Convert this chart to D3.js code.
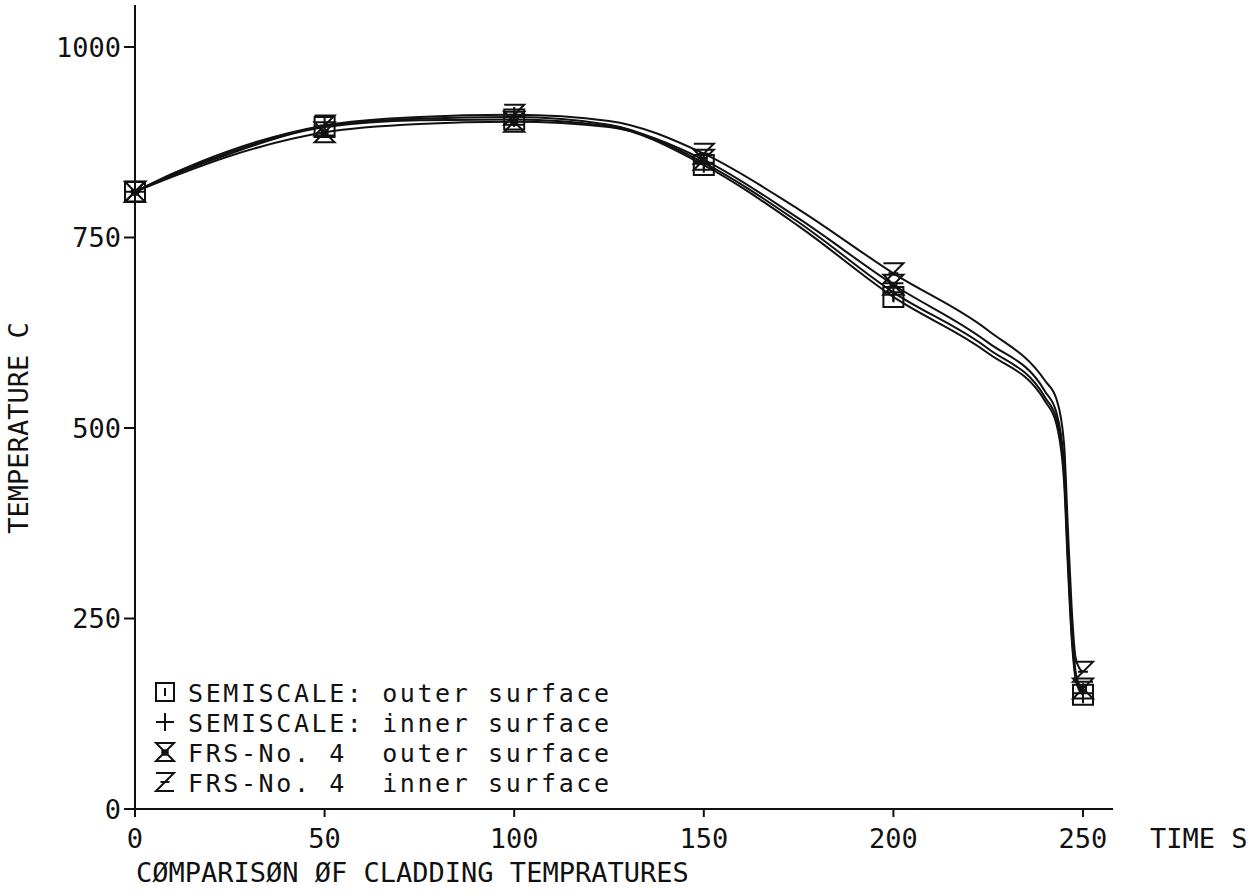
<!DOCTYPE html>
<html lang="en">
<head>
<meta charset="UTF-8">
<title>Comparison of cladding temperatures</title>
<script src="https://d3js.org/d3.v7.min.js"></script>
<style>
    body { margin: 0; background: #fff; }
    text {
        font-family: "DejaVu Sans Mono", monospace;
        font-size: 27px;
        fill: #111;
    }
    .legend text { font-size: 25px; letter-spacing: 2.6px; }
</style>
</head>
<body>
<div id="chart"></div>
<script>
    // Width and height of the picture
    var width = 1258;
    var height = 896;

    // time points (s) and the four read-off temperature curves (C)
    var times      = [0, 10, 25, 50, 75, 100, 125, 150, 175, 200, 225, 240, 243, 245, 246, 247, 248, 249, 250];
    var semiOuter  = [810, 832, 860, 895, 904, 905, 896, 845, 765, 672, 598, 535, 505, 430, 320, 225, 172, 156, 150];
    var semiInner  = [810, 833, 862, 896, 906, 908, 898, 848, 770, 678, 604, 540, 512, 440, 330, 232, 176, 158, 152];
    var frsOuter   = [810, 830, 857, 888, 899, 902, 895, 852, 775, 688, 612, 548, 520, 455, 345, 242, 182, 163, 158];
    var frsInner   = [810, 834, 864, 897, 908, 911, 903, 860, 787, 703, 628, 562, 538, 480, 370, 265, 200, 185, 180];

    var markerTimes = [0, 50, 100, 150, 200, 250];
    var xTicks = [0, 50, 100, 150, 200, 250];
    var yTicks = [0, 250, 500, 750, 1000];

    var seriesNames = ["SEMISCALE: outer surface", "SEMISCALE: inner surface",
                       "FRS-No. 4  outer surface", "FRS-No. 4  inner surface"];
    var seriesValues = [semiOuter, semiInner, frsOuter, frsInner];
    var seriesSymbols = ["square", "plus", "hourglass", "zee"];

    var svg = d3.select("#chart").append("svg")
        .attr("width", width)
        .attr("height", height);

    var x = d3.scaleLinear().domain([0, 250]).range([135, 1083]);
    var y = d3.scaleLinear().domain([0, 1000]).range([809, 47]);

    // symbol paths, centred on 0,0
    function symbolPath(kind, s) {
        if (kind === "square") {
            return "M" + (-s) + "," + (-s) + "H" + s + "V" + s + "H" + (-s) + "Z" +
                   "M0," + (-s * 0.45) + "V" + (s * 0.45);
        } else if (kind === "plus") {
            return "M" + (-s) + ",0H" + s + "M0," + (-s) + "V" + s;
        } else if (kind === "hourglass") {
            return "M" + (-s) + "," + (-s) + "H" + s + "L" + (-s) + "," + s + "H" + s + "Z" +
                   "M" + (-s * 0.3) + "," + (-s * 0.2) + "h" + (s * 0.6) + "v" + (s * 0.5) + "h" + (-s * 0.6) + "Z";
        } else {
            return "M" + (-s) + "," + (-s) + "H" + s + "L" + (-s) + "," + s + "H" + s +
                   "M" + (-s * 0.5) + ",0H" + (s * 0.5);
        }
    }

    // axes
    var axes = svg.append("g").attr("stroke", "#111").attr("stroke-width", 2).attr("fill", "none");
    axes.append("line").attr("x1", x(0)).attr("x2", 1113).attr("y1", y(0)).attr("y2", y(0));
    axes.append("line").attr("x1", x(0)).attr("x2", x(0)).attr("y1", y(0)).attr("y2", 5);

    axes.selectAll(".xt").data(xTicks).join("line")
        .attr("x1", function (d) { return x(d); })
        .attr("x2", function (d) { return x(d); })
        .attr("y1", y(0))
        .attr("y2", y(0) + 8);

    axes.selectAll(".yt").data(yTicks).join("line")
        .attr("x1", x(0) - 11)
        .attr("x2", x(0))
        .attr("y1", function (d) { return y(d); })
        .attr("y2", function (d) { return y(d); });

    svg.append("g").selectAll("text").data(xTicks).join("text")
        .attr("x", function (d) { return x(d); })
        .attr("y", 848)
        .attr("text-anchor", "middle")
        .text(function (d) { return d; });

    svg.append("g").selectAll("text").data(yTicks).join("text")
        .attr("x", x(0) - 14)
        .attr("y", function (d) { return y(d); })
        .attr("dy", "0.36em")
        .attr("text-anchor", "end")
        .text(function (d) { return d; });

    svg.append("text")
        .attr("x", 1150)
        .attr("y", 848)
        .text("TIME S");

    svg.append("text")
        .attr("transform", "translate(28," + y(500) + ") rotate(-90)")
        .attr("text-anchor", "middle")
        .text("TEMPERATURE C");

    svg.append("text")
        .attr("x", 136)
        .attr("y", 882)
        .text("CØMPARISØN ØF CLADDING TEMPRATURES");

    // curves
    var line = d3.line()
        .x(function (d) { return x(d[0]); })
        .y(function (d) { return y(d[1]); })
        .curve(d3.curveMonotoneX);

    seriesValues.forEach(function (vals, i) {
        var pts = times.map(function (t, j) { return [t, vals[j]]; });
        svg.append("path")
            .attr("d", line(pts))
            .attr("fill", "none")
            .attr("stroke", "#111")
            .attr("stroke-width", 2);

        var marks = pts.filter(function (p) { return markerTimes.indexOf(p[0]) >= 0; });
        svg.append("g").selectAll("path").data(marks).join("path")
            .attr("transform", function (d) { return "translate(" + x(d[0]) + "," + y(d[1]) + ")"; })
            .attr("d", symbolPath(seriesSymbols[i], 10))
            .attr("fill", "none")
            .attr("stroke", "#111")
            .attr("stroke-width", 2);
    });

    // legend
    var legend = svg.append("g").attr("class", "legend");
    seriesNames.forEach(function (name, i) {
        var yy = 702 + i * 30;
        legend.append("path")
            .attr("transform", "translate(165," + (yy - 10) + ")")
            .attr("d", symbolPath(seriesSymbols[i], 9))
            .attr("fill", "none")
            .attr("stroke", "#111")
            .attr("stroke-width", 2);
        legend.append("text")
            .attr("x", 188)
            .attr("y", yy)
            .attr("xml:space", "preserve")
            .style("white-space", "pre")
            .text(name);
    });
</script>
</body>
</html>
